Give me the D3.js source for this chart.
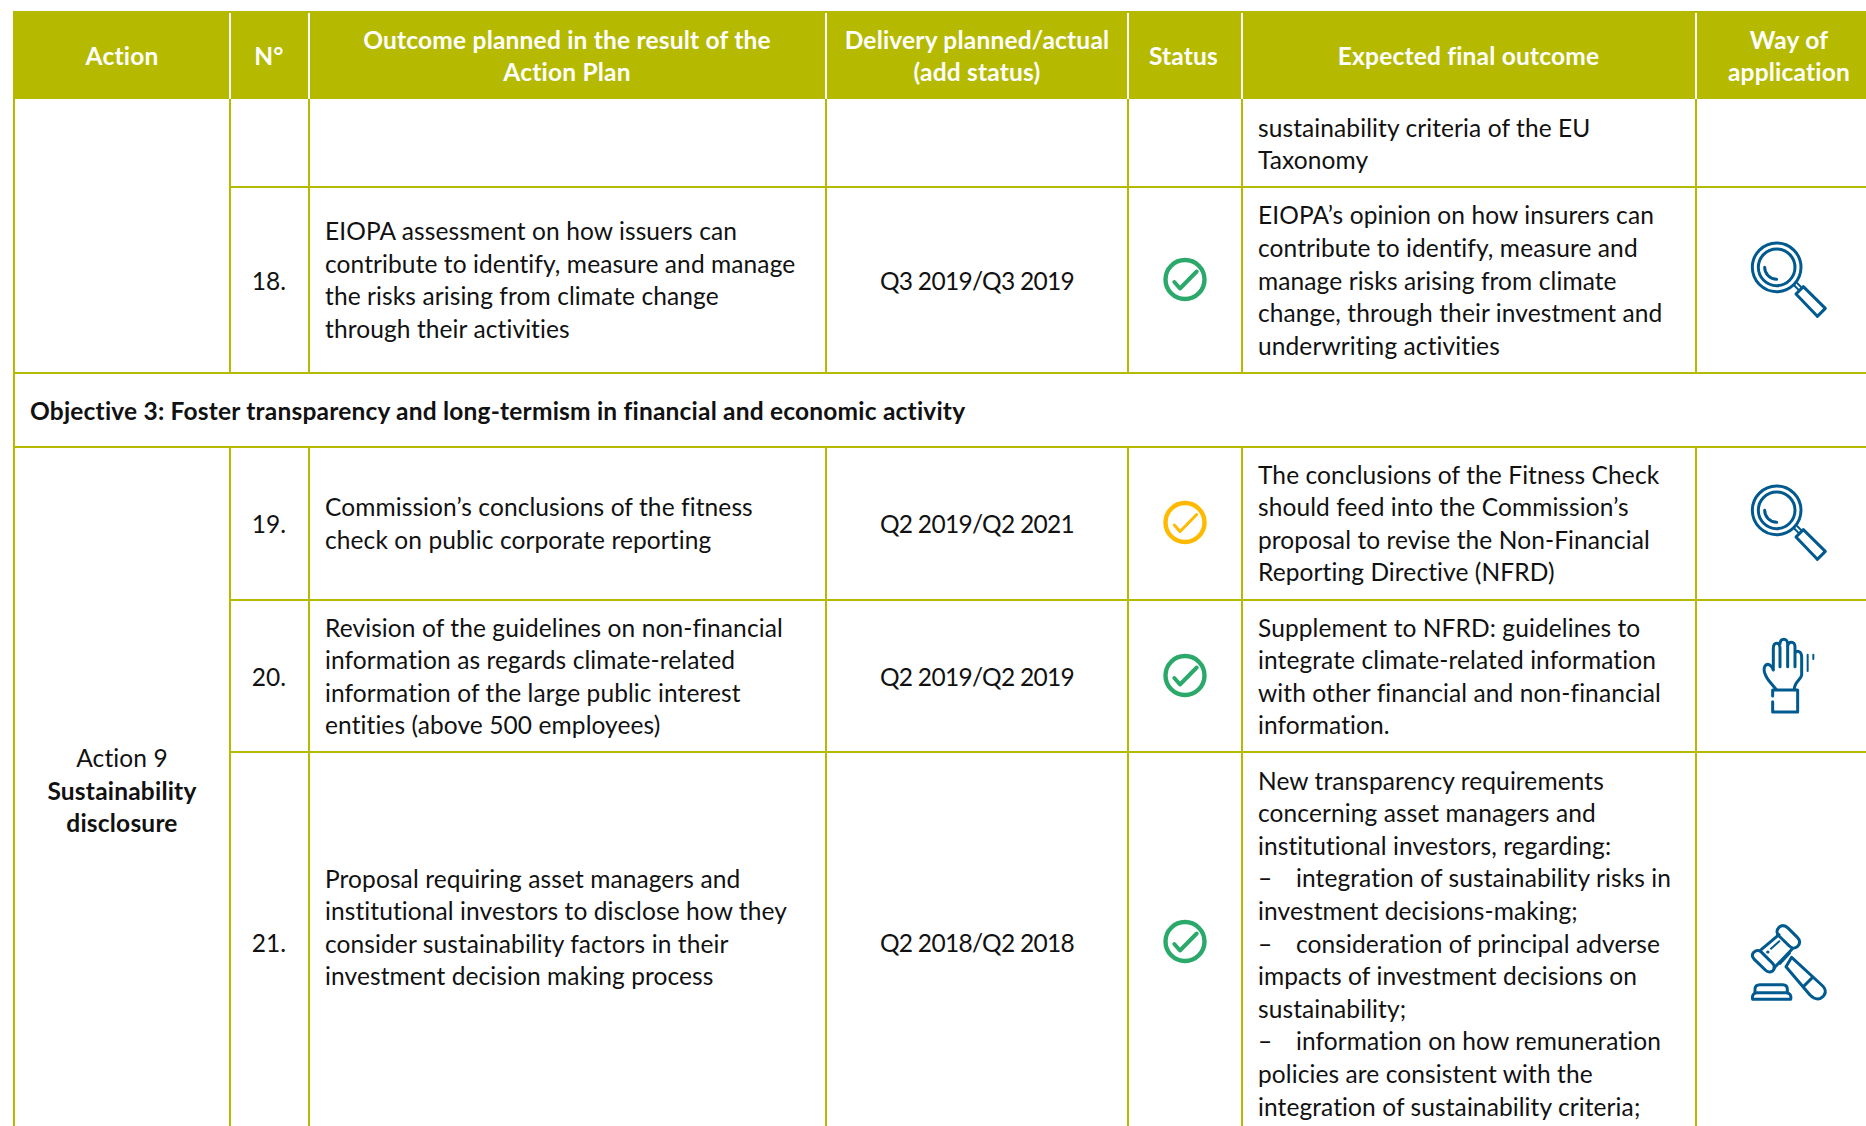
<!DOCTYPE html>
<html>
<head>
<meta charset="utf-8">
<script src="https://cdn.jsdelivr.net/npm/d3@7"></script>
<style>
  html, body { margin: 0; padding: 0; background: #fff; overflow: hidden; }
  svg { display: block; }
  text { font-family: Lato, sans-serif; font-size: 24.5px; fill: #111; font-variant-ligatures: none; letter-spacing: 0.1px; }
  text.bold { font-weight: 700; letter-spacing: 0.2px; }
  text.date { letter-spacing: -0.7px; }
</style>
</head>
<body>
<div id="chart"></div>
<script>
// table content
var headers = [
    ["Action"],
    ["N°"],
    ["Outcome planned in the result of the", "Action Plan"],
    ["Delivery planned/actual", "(add status)"],
    ["Status"],
    ["Expected final outcome"],
    ["Way of", "application"]
];
var numbers = ["18.", "19.", "20.", "21."];
var deliveries = ["Q3 2019/Q3 2019", "Q2 2019/Q2 2021", "Q2 2019/Q2 2019", "Q2 2018/Q2 2018"];
var statuses = ["done", "late", "done", "done"];
var ways = ["search", "search", "hand", "gavel"];
var outcomes = [
    ["EIOPA assessment on how issuers can", "contribute to identify, measure and manage", "the risks arising from climate change", "through their activities"],
    ["Commission’s conclusions of the fitness", "check on public corporate reporting"],
    ["Revision of the guidelines on non-financial", "information as regards climate-related", "information of the large public interest", "entities (above 500 employees)"],
    ["Proposal requiring asset managers and", "institutional investors to disclose how they", "consider sustainability factors in their", "investment decision making process"]
];
var finals = [
    ["EIOPA’s opinion on how insurers can", "contribute to identify, measure and", "manage risks arising from climate", "change, through their investment and", "underwriting activities"],
    ["The conclusions of the Fitness Check", "should feed into the Commission’s", "proposal to revise the Non-Financial", "Reporting Directive (NFRD)"],
    ["Supplement to NFRD: guidelines to", "integrate climate-related information", "with other financial and non-financial", "information."],
    ["New transparency requirements", "concerning asset managers and", "institutional investors, regarding:", "–\tintegration of sustainability risks in", "investment decisions-making;", "–\tconsideration of principal adverse", "impacts of investment decisions on", "sustainability;", "–\tinformation on how remuneration", "policies are consistent with the", "integration of sustainability criteria;"]
];
var carriedOver = ["sustainability criteria of the EU", "Taxonomy"];
var objective = "Objective 3: Foster transparency and long-termism in financial and economic activity";
var actionRegular = "Action 9";
var actionBold = ["Sustainability", "disclosure"];
var rowKeys = ["18.", "19.", "20.", "21."];

// layout
var width = 1866, height = 1126;
var lineH = 32.6;
var colEdges = [14, 230, 309, 826, 1128, 1242, 1696, 1880];
var rowEdges = [99, 187, 373, 447, 600, 752, 1140];
var olive = "#b5ba00", blue = "#005a8f";

var svg = d3.select("#chart").append("svg")
    .attr("width", width)
    .attr("height", height);

// column centres and row centres go through ordinal scales
var colX = d3.scaleOrdinal()
    .domain(d3.range(7))
    .range([122, 269, 567, 977, 1183.5, 1468.5, 1789]);
var rowMid = d3.scaleOrdinal()
    .domain(rowKeys)
    .range([281, 524, 677, 943]);

// outcome column and final column have their own vertical centres in row 21
var outcomeMid = d3.scaleOrdinal().domain(rowKeys).range([280.5, 524, 677, 928]);
var finalMid = d3.scaleOrdinal().domain(rowKeys).range([281, 524, 677, 944]);

var leftOutcome = 325, leftFinal = 1258, bulletIndent = 38;

// header band
svg.append("rect")
    .attr("x", 13)
    .attr("y", 11)
    .attr("width", width - 13)
    .attr("height", 88)
    .attr("fill", olive);

// white dividers in the header
svg.append("g").selectAll("line")
    .data(colEdges.slice(1, 7))
    .enter().append("line")
    .attr("x1", function(d) { return d; })
    .attr("x2", function(d) { return d; })
    .attr("y1", 13)
    .attr("y2", 99)
    .attr("stroke", "#fff")
    .attr("stroke-width", 2);

// grid
var grid = svg.append("g")
    .attr("stroke", olive)
    .attr("stroke-width", 2);

// long verticals, interrupted by the objective row
function vline(x, y1, y2) {
    grid.append("line").attr("x1", x).attr("x2", x).attr("y1", y1).attr("y2", y2);
}
function hline(x1, x2, y) {
    grid.append("line").attr("x1", x1).attr("x2", x2).attr("y1", y).attr("y2", y);
}
vline(colEdges[0], 99, height);
colEdges.slice(1, 7).forEach(function(x) {
    vline(x, 99, rowEdges[2]);
    vline(x, rowEdges[3], height);
});
hline(colEdges[1], width, rowEdges[1]);
hline(colEdges[0], width, rowEdges[2]);
hline(colEdges[0], width, rowEdges[3]);
hline(colEdges[1], width, rowEdges[4]);
hline(colEdges[1], width, rowEdges[5]);

// header labels
headers.forEach(function(lines, i) {
    svg.append("g").selectAll("text")
        .data(lines)
        .enter().append("text")
        .attr("class", "bold")
        .attr("x", colX(i))
        .attr("y", function(d, j) { return 56.5 + (j - (lines.length - 1) / 2) * lineH; })
        .attr("dy", ".35em")
        .attr("text-anchor", "middle")
        .style("fill", "#fff")
        .text(function(d) { return d; });
});

// a left aligned block of lines centred on mid; tab marks a hanging bullet
function block(lines, x, mid) {
    var g = svg.append("g");
    lines.forEach(function(line, j) {
        var y = mid + (j - (lines.length - 1) / 2) * lineH;
        var parts = line.split("\t");
        parts.forEach(function(part, k) {
            g.append("text")
                .attr("x", x + (k === parts.length - 1 && k > 0 ? bulletIndent : 0))
                .attr("y", y)
                .attr("dy", ".35em")
                .text(part);
        });
    });
}

block(carriedOver, leftFinal, 144.5);

svg.append("text")
    .attr("class", "bold")
    .attr("x", 30)
    .attr("y", 411)
    .attr("dy", ".35em")
    .text(objective);

rowKeys.forEach(function(key, i) {
    svg.append("text")
        .attr("x", colX(1))
        .attr("y", rowMid(key))
        .attr("dy", ".35em")
        .attr("text-anchor", "middle")
        .text(numbers[i]);
    svg.append("text")
        .attr("class", "date")
        .attr("x", colX(3))
        .attr("y", rowMid(key))
        .attr("dy", ".35em")
        .attr("text-anchor", "middle")
        .text(deliveries[i]);
    block(outcomes[i], leftOutcome, outcomeMid(key));
    block(finals[i], leftFinal, finalMid(key));
    drawStatus(statuses[i], colX(4) + 1.5, rowMid(key) - 1.5);
    drawWay(ways[i], key);
});

// action label
svg.append("text")
    .attr("x", colX(0))
    .attr("y", 758.5)
    .attr("dy", ".35em")
    .attr("text-anchor", "middle")
    .text(actionRegular);
svg.append("g").selectAll("text")
    .data(actionBold)
    .enter().append("text")
    .attr("class", "bold")
    .attr("x", colX(0))
    .attr("y", function(d, j) { return 791 + j * lineH; })
    .attr("dy", ".35em")
    .attr("text-anchor", "middle")
    .text(function(d) { return d; });

//..........................................................
//......................icons...............................
//..........................................................

function drawStatus(kind, cx, cy) {
    var color = kind === "done" ? "#2aa96a" : "#ffb900";
    var g = svg.append("g")
        .attr("transform", "translate(" + cx + "," + cy + ")")
        .attr("fill", "none")
        .attr("stroke", color)
        .attr("stroke-linecap", "round")
        .attr("stroke-linejoin", "round");
    g.append("circle")
        .attr("r", 19.5)
        .attr("stroke-width", 4.4);
    g.append("path")
        .attr("d", "M-10.7,2.5L-5,9L11.7,-8")
        .attr("stroke-width", kind === "done" ? 4 : 3);
}

// icon outlines are written in 3x pixels around their own origin
function iconGroup(x, y) {
    return svg.append("g")
        .attr("transform", "translate(" + x + "," + y + ") scale(0.3333)")
        .attr("fill", "none")
        .attr("stroke", blue)
        .attr("stroke-width", 9)
        .attr("stroke-linecap", "round")
        .attr("stroke-linejoin", "round");
}

function drawWay(kind, key) {
    var ox = 1700, oy = { "18.": 220, "19.": 463, "20.": 620, "21.": 900 }[key];
    var g = iconGroup(ox, oy);
    if (kind === "search") {
        g.append("circle").attr("cx", 230).attr("cy", 142).attr("r", 73);
        g.append("circle").attr("cx", 230).attr("cy", 142).attr("r", 55);
        g.append("path").attr("d", "M194,142A36,36 0 0 0 230,178");
        g.append("path").attr("d", "M310,200L376,265L352,289L288,222Z");
        g.append("path").attr("d", "M282,196L298,212M292,190L306,204").attr("stroke-width", 6);
    } else if (kind === "hand") {
        g.append("path").attr("d", "M228,208L205,180C195,165 188,150 195,138C203,128 215,135 220,150"
            + "L220,85C220,65 240,65 240,85L240,140M240,72C241,53 263,53 263,72L263,140"
            + "M263,80C264,62 285,62 285,80L285,140M285,100C290,90 305,92 305,112L305,165C303,180 283,185 283,208");
        g.append("path").attr("d", "M218,228L218,210L293,210L293,276L218,276L218,245");
        g.append("path").attr("d", "M323,104L323,153M340,104L340,117").attr("stroke-width", 6);
    } else {
        g.append("path").attr("d", "M237,82C247,73 258,78 265,85L292,112C302,122 300,132 292,140C285,146 275,145 268,138L237,108C229,100 229,90 237,82Z");
        g.append("path").attr("d", "M160,158C167,150 178,150 185,157L218,190C226,198 224,208 218,213C210,218 202,216 196,210L163,178C157,172 155,165 160,158Z");
        g.append("path").attr("d", "M180,152L237,104M276,148L222,204");
        g.append("path").attr("d", "M240,190L268,160");
        g.append("path").attr("d", "M258,200L275,172L365,255C382,270 378,285 362,295C350,300 340,295 330,285Z");
        g.append("path").attr("d", "M310,260L336,234");
        g.append("path").attr("d", "M213,146L238,124").attr("stroke-width", 6);
        g.append("path").attr("d", "M203,156L204,156");
        g.append("path").attr("d", "M165,278L165,268C165,258 172,254 180,254L248,254C256,254 262,258 262,268L262,278");
        g.append("path").attr("d", "M158,298C155,285 162,278 172,278L258,278C268,278 275,285 272,298Z");
    }
}
</script>
</body>
</html>
